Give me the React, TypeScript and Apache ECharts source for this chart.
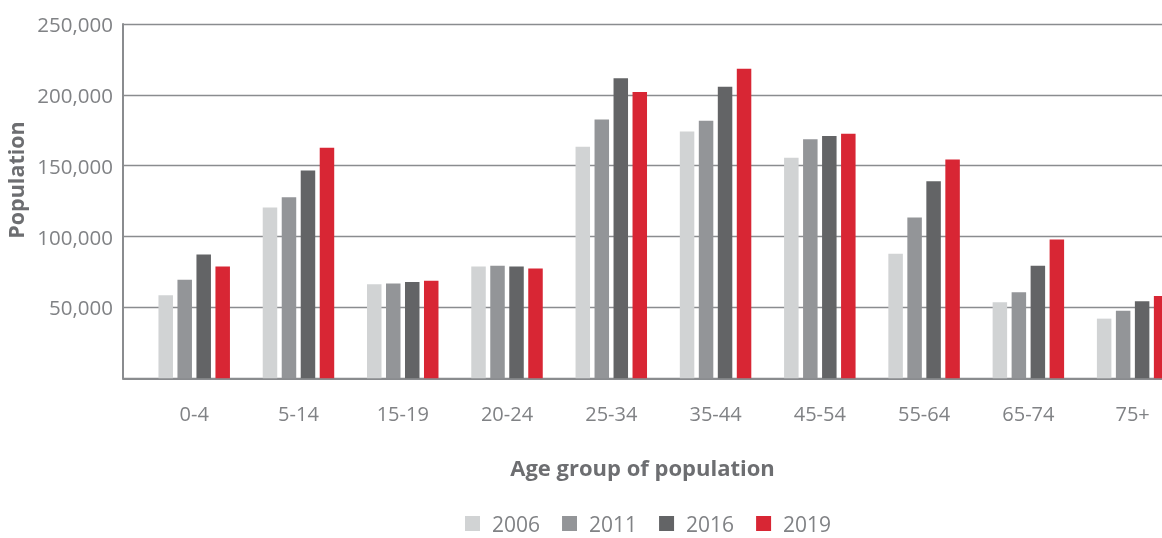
import React, { useEffect, useRef } from "react";
import * as echarts from "echarts";

const categories = ["0-4", "5-14", "15-19", "20-24", "25-34", "35-44", "45-54", "55-64", "65-74", "75+"];
const years = ["2006", "2011", "2016", "2019"];
const values2006 = [58600, 120600, 66400, 78800, 163400, 174200, 155700, 87900, 53600, 42100];
const values2011 = [69500, 127800, 66900, 79500, 182600, 181700, 168700, 113400, 60700, 47600];
const values2016 = [87400, 146700, 67900, 78800, 211800, 205800, 170900, 139100, 79500, 54300];
const values2019 = [78800, 162600, 68800, 77400, 202000, 218500, 172500, 154400, 97900, 58100];
const yTicks = [0, 50000, 100000, 150000, 200000, 250000];
const colors = ["#d1d3d4", "#939598", "#636466", "#d82634"];

const FONT = "'Open Sans', 'Noto Sans', sans-serif";
const LABEL = "#808285";
const AXIS = "#8a8c8f";
const W = 1190;

export default function App() {
  const ref = useRef<HTMLDivElement>(null);
  useEffect(() => {
    if (!ref.current) return;
    const chart = echarts.init(ref.current, null, { renderer: "svg" });
    const seriesData = [values2006, values2011, values2016, values2019];
    const option: any = {
      animation: false,
      textStyle: { fontFamily: FONT },
      grid: [
        { left: 123, right: W - 1162, top: 24, height: 354.3 },
        { left: 142.07, right: W - 142.07 - 1042.7, top: 24, height: 354.3 },
      ],
      xAxis: [
        {
          gridIndex: 0,
          type: "value",
          min: 0,
          max: 1,
          axisLine: { show: true, lineStyle: { color: AXIS, width: 2 } },
          axisTick: { show: false },
          axisLabel: { show: false },
          splitLine: { show: false },
          name: "Age group of population",
          nameLocation: "middle",
          nameGap: 78,
          nameTextStyle: { color: "#6d6e71", fontSize: 22, fontWeight: "bold", fontFamily: FONT },
        },
        {
          gridIndex: 1,
          type: "category",
          data: categories,
          axisLine: { show: false },
          axisTick: { show: false },
          axisLabel: { color: LABEL, fontSize: 20, margin: 25, fontFamily: FONT, interval: 0 },
        },
      ],
      yAxis: [
        {
          gridIndex: 0,
          type: "value",
          min: yTicks[0],
          max: yTicks[yTicks.length - 1],
          interval: yTicks[1] - yTicks[0],
          axisLine: { show: true, lineStyle: { color: AXIS, width: 2 } },
          axisTick: { show: false },
          axisLabel: {
            color: LABEL,
            fontSize: 20.5,
            margin: 10,
            fontFamily: FONT,
            formatter: (v: number) => (v === 0 ? "" : v.toLocaleString("en-US")),
          },
          splitLine: { show: true, lineStyle: { color: AXIS, width: 1.3 } },
        },
        {
          gridIndex: 1,
          type: "value",
          min: yTicks[0],
          max: yTicks[yTicks.length - 1],
          show: false,
        },
      ],
      legend: {
        left: 465,
        top: 513,
        itemWidth: 15,
        itemHeight: 15,
        itemGap: 22,
        icon: "rect",
        padding: 0,
        textStyle: { color: LABEL, fontSize: 21, lineHeight: 21, fontFamily: FONT, padding: [0, 0, 0, 7] },
        data: years,
      },
      graphic: [
        {
          type: "text",
          x: 15,
          y: 180,
          rotation: Math.PI / 2,
          style: {
            text: "Population",
            fill: "#6d6e71",
            font: `bold 21.5px ${FONT}`,
            align: "center",
            verticalAlign: "middle",
          },
        },
      ],
      series: years.map((y, i) => ({
        name: y,
        type: "bar",
        xAxisIndex: 1,
        yAxisIndex: 1,
        data: seriesData[i],
        barWidth: 14.5,
        barGap: "31%",
        itemStyle: { color: colors[i] },
      })),
    };
    chart.setOption(option);
    return () => chart.dispose();
  }, []);
  return <div ref={ref} style={{ position: "fixed", left: 0, top: 0, width: W, height: 538 }} />;
}
